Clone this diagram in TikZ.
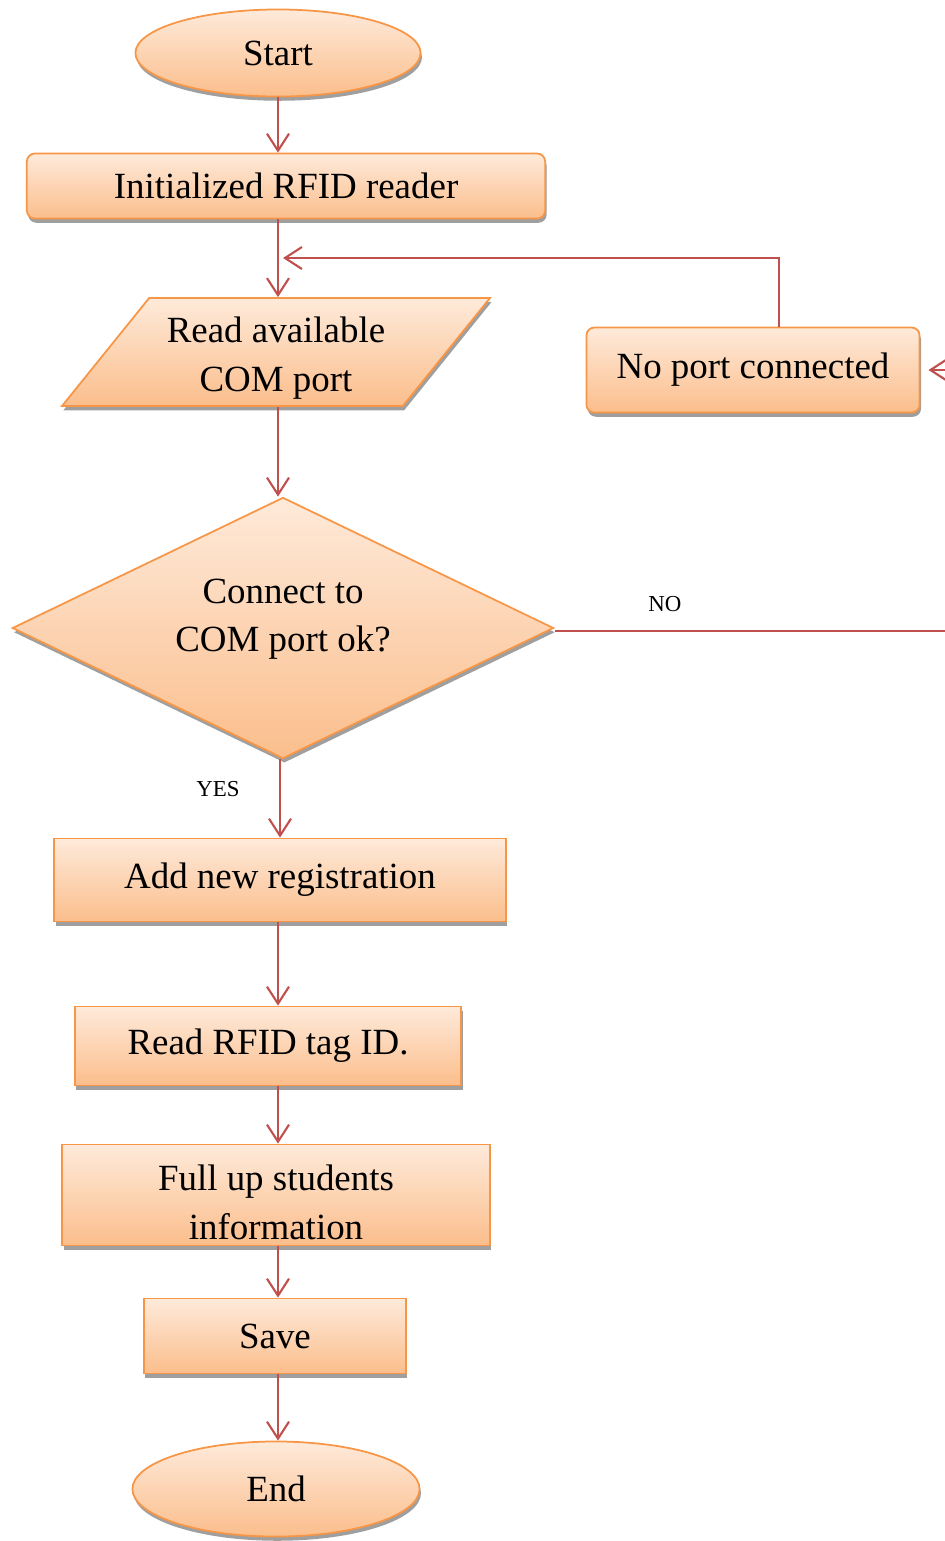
\documentclass[tikz,border=0pt]{standalone}
\usepackage{fontspec}
\setmainfont{Liberation Serif}
\usetikzlibrary{shapes.geometric, arrows.meta, shadows}

\definecolor{boxline}{RGB}{247,150,70}
\definecolor{boxtop}{RGB}{254,234,218}
\definecolor{boxbottom}{RGB}{251,190,140}
\definecolor{flowline}{RGB}{192,80,77}

\begin{document}
\begin{tikzpicture}
    [x=0.01cm, y=-0.01cm,
     every node/.style={font=\fontsize{10.5}{13.8}\selectfont, inner sep=0pt, align=center},
     block/.style={draw=boxline, line width=0.5pt, top color=boxtop, bottom color=boxbottom,
       drop shadow={shadow xshift=0.4pt, shadow yshift=-1.2pt, fill=gray!75, opacity=1}},
     terminal/.style={block, ellipse},
     process/.style={block, rectangle},
     roundbox/.style={block, rectangle, rounded corners=0.08cm},
     inout/.style={block, trapezium, trapezium left angle=51.5, trapezium right angle=128.5,
       trapezium stretches=true},
     decision/.style={block, diamond, aspect=2.07},
     answer/.style={font=\fontsize{6.5}{8}\selectfont},
     flow/.style={draw=flowline, line width=0.6pt, -{Straight Barb[length=1.7mm,width=2.2mm]}}]

    \useasboundingbox (0,0) rectangle (944,1541);

    \node[terminal, minimum width=2.85cm, minimum height=0.87cm] (start) at (278,53) {Start};
    \node[roundbox, minimum width=5.18cm, minimum height=0.65cm] (init) at (286,186) {Initialized RFID reader};
    \node[inout, minimum width=4.28cm, minimum height=1.08cm] (read) at (276,352) {\rule{0pt}{0.38cm}Read available\\COM port};
    \node[roundbox, minimum width=3.33cm, minimum height=0.85cm] (noport) at (753,370) {No port connected};
    \node[decision, minimum width=5.41cm, minimum height=2.61cm] (check) at (283,628) {Connect to\\COM port ok?\rule[-0.25cm]{0pt}{0.25cm}};
    \node[process, minimum width=4.51cm, minimum height=0.83cm] (addreg) at (280,880) {Add new registration};
    \node[process, minimum width=3.86cm, minimum height=0.79cm] (readtag) at (268,1046) {Read RFID tag ID.};
    \node[process, minimum width=4.27cm, minimum height=1.01cm] (fillup) at (276,1195) {\rule{0pt}{0.4cm}Full up students\\information};
    \node[process, minimum width=2.62cm, minimum height=0.75cm] (save) at (275,1336) {Save};
    \node[terminal, minimum width=2.87cm, minimum height=0.95cm] (stop) at (276,1489) {End};

    \node[answer] (yes) at (218,789) {YES};
    \node[answer] (no) at (665,604) {NO};

    \coordinate (merge) at (283,258);
    \coordinate (corner) at (779,258);
    \coordinate (offpage) at (1000,631);

    % main line
    \draw[flow] (start.south) -- (start.south |- init.north);
    \draw[flow] (init.south -| start) -- (read.north -| start);
    \draw[flow] (read.south -| start) -- (check.north -| start);
    \draw[flow] (check.south -| addreg) -- (addreg.north);
    \draw[flow] (addreg.south -| start) -- (readtag.north -| start);
    \draw[flow] (readtag.south -| start) -- (fillup.north -| start);
    \draw[flow] (fillup.south -| start) -- (save.north -| start);
    \draw[flow] (save.south -| start) -- (stop.north -| start);

    % no port loop
    \draw[flow, shorten >=0.08cm] (check.east |- offpage) -- (offpage) |- (noport.east);
    \draw[flow] (noport.north -| corner) -- (corner) -- (merge);
\end{tikzpicture}
\end{document}
